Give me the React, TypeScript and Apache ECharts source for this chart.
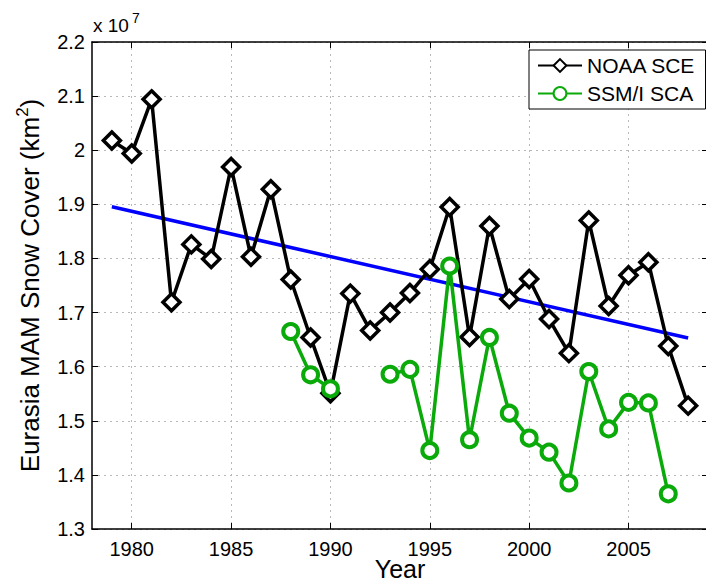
import React, { useEffect, useRef } from "react";
import * as echarts from "echarts";

// Eurasian spring (MAM) snow cover, in units of 10^7 km²
const years: number[] = [
  1979, 1980, 1981, 1982, 1983, 1984, 1985, 1986, 1987, 1988, 1989, 1990,
  1991, 1992, 1993, 1994, 1995, 1996, 1997, 1998, 1999, 2000, 2001, 2002,
  2003, 2004, 2005, 2006, 2007, 2008,
];
const noaaSce: number[] = [
  2.018, 1.994, 2.094, 1.719, 1.826, 1.799, 1.969, 1.803, 1.928, 1.761, 1.654, 1.551,
  1.735, 1.667, 1.700, 1.736, 1.780, 1.895, 1.655, 1.860, 1.725, 1.762, 1.688, 1.625,
  1.870, 1.712, 1.769, 1.793, 1.638, 1.528,
];
// SSM/I record starts in 1988; 1991-1992 missing
const ssmiSca: (number | null)[] = [
  null, null, null, null, null, null, null, null, null, 1.665, 1.585, 1.559,
  null, null, 1.586, 1.595, 1.445, 1.786, 1.465, 1.654, 1.514, 1.468, 1.442, 1.385,
  1.591, 1.485, 1.534, 1.533, 1.365, null,
];
// Linear trend of the NOAA series (end points)
const trendYears: number[] = [1979, 2008];
const trendValues: number[] = [1.8955, 1.653];

const xTicks: number[] = [1980, 1985, 1990, 1995, 2000, 2005];

const FONT = "Liberation Sans, Arial, Helvetica, sans-serif";
const GREEN = "#0aaa0a";

export default function App() {
  const ref = useRef<HTMLDivElement>(null);

  useEffect(() => {
    if (!ref.current) return;
    const chart = echarts.init(ref.current, undefined, { renderer: "svg" });

    const pairs = (vals: (number | null)[]) =>
      years.map((y, i) => [y, vals[i] === null ? null : vals[i]]);

    const gridLine = { show: true, lineStyle: { color: "#b8b8b8", width: 1, type: [2, 4] as number[] } };
    const frameLine = { show: true, lineStyle: { color: "#000", width: 1.5 } };

    chart.setOption({
      animation: false,
      backgroundColor: "#fff",
      textStyle: { fontFamily: FONT },
      grid: {
        left: 92,
        top: 42,
        width: 616,
        height: 487,
        containLabel: false,
        outerBoundsMode: "none",
      },
      legend: {
        data: ["NOAA SCE", "SSM/I SCA"],
        orient: "vertical",
        left: 529,
        top: 50,
        width: 173,
        padding: [5, 10, 5, 8],
        itemWidth: 44,
        itemHeight: 16,
        itemGap: 7,
        backgroundColor: "#fff",
        borderColor: "#000",
        borderWidth: 1,
        textStyle: { fontSize: 21, color: "#000", fontFamily: FONT },
      },
      xAxis: [
        {
          type: "value",
          min: 1978,
          max: 2009,
          name: "Year",
          nameLocation: "middle",
          nameGap: 27,
          nameMoveOverlap: false,
          nameTextStyle: { fontSize: 25, color: "#000", fontFamily: FONT },
          axisLine: frameLine,
          axisTick: { inside: true, length: 6, customValues: xTicks, lineStyle: { color: "#000" } },
          axisLabel: {
            customValues: xTicks,
            fontSize: 20,
            color: "#000",
            margin: 10,
            fontFamily: FONT,
            formatter: (v: number) => String(v),
          },
          splitLine: gridLine,
        },
        {
          type: "value",
          position: "top",
          min: 1978,
          max: 2009,
          axisLine: frameLine,
          axisTick: { inside: true, length: 6, customValues: xTicks, lineStyle: { color: "#000" } },
          axisLabel: { show: false },
          splitLine: { show: false },
        },
      ],
      yAxis: [
        {
          type: "value",
          min: 1.3,
          max: 2.2,
          interval: 0.1,
          name: "Eurasia MAM Snow Cover (km{sup|2})",
          nameLocation: "middle",
          nameRotate: 90,
          nameGap: 39,
          nameTextStyle: {
            fontSize: 26,
            color: "#000",
            fontFamily: FONT,
            lineHeight: 32,
            rich: { sup: { fontSize: 17, color: "#000", fontFamily: FONT, verticalAlign: "top", lineHeight: 18 } },
          },
          axisLine: frameLine,
          axisTick: { inside: true, length: 6, lineStyle: { color: "#000" } },
          axisLabel: {
            fontSize: 20,
            color: "#000",
            margin: 7,
            fontFamily: FONT,
            formatter: (v: number) => String(Math.round(v * 10) / 10),
          },
          splitLine: gridLine,
        },
        {
          type: "value",
          position: "right",
          min: 1.3,
          max: 2.2,
          interval: 0.1,
          axisLine: frameLine,
          axisTick: { inside: true, length: 6, lineStyle: { color: "#000" } },
          axisLabel: { show: false },
          splitLine: { show: false },
        },
      ],
      graphic: [
        { type: "text", left: 93, top: 16, style: { text: "x 10", fontSize: 19, fill: "#000", fontFamily: FONT } },
        { type: "text", left: 132, top: 11, style: { text: "7", fontSize: 14, fill: "#000", fontFamily: FONT } },
      ],
      series: [
        {
          name: "Trend",
          type: "line",
          data: trendYears.map((y, i) => [y, trendValues[i]]),
          showSymbol: false,
          symbol: "none",
          silent: true,
          lineStyle: { color: "#0000ff", width: 3.5 },
          z: 3,
        },
        {
          name: "NOAA SCE",
          type: "line",
          data: pairs(noaaSce),
          symbol: "diamond",
          symbolSize: 17,
          lineStyle: { color: "#000", width: 3.5 },
          itemStyle: { color: "#fff", borderColor: "#000", borderWidth: 3.5 },
          emphasis: { disabled: true },
          z: 4,
        },
        {
          name: "SSM/I SCA",
          type: "line",
          data: pairs(ssmiSca),
          connectNulls: false,
          symbol: "circle",
          symbolSize: 15,
          lineStyle: { color: GREEN, width: 3.5 },
          itemStyle: { color: "#fff", borderColor: GREEN, borderWidth: 4 },
          emphasis: { disabled: true },
          z: 5,
        },
      ],
    });

    return () => chart.dispose();
  }, []);

  return (
    <div
      ref={ref}
      style={{ position: "fixed", left: 0, top: 0, width: 706, height: 582, background: "#fff" }}
    />
  );
}
